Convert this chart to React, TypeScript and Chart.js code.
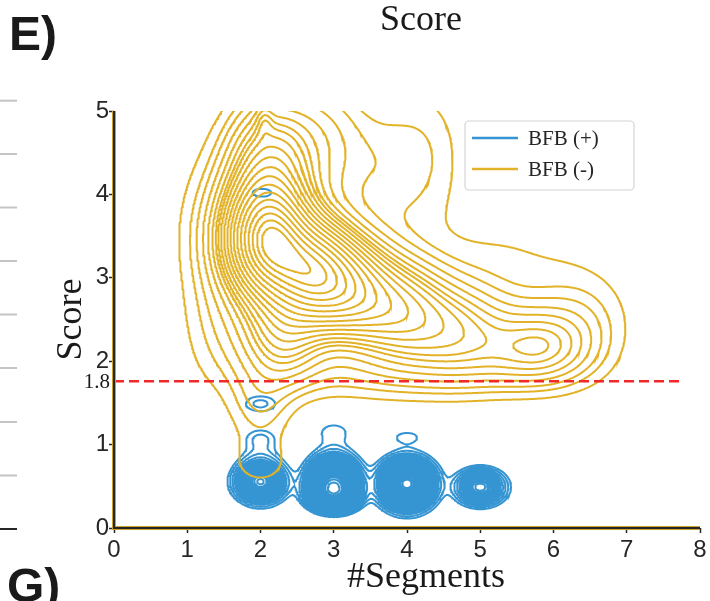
import React, { useEffect, useRef } from "react";
import { Chart, registerables } from "chart.js";

Chart.register(...registerables);

// ---------------- data ----------------
const xTicks = [0, 1, 2, 3, 4, 5, 6, 7, 8];
const yTicks = [0, 1, 2, 3, 4, 5];
const seriesLabels = ["BFB (+)", "BFB (-)"];
const seriesColors = ["#3594d2", "#e2b329"];

// BFB (+) kernel-density components: centre, spread, weight
const plusCx = [2.0, 2.0, 2.0, 2.0, 2.02, 3.0, 3.0, 3.0, 3.0, 4.0, 4.0, 5.0];
const plusCy = [0.55, 0.68, 1.08, 1.49, 4.02, 0.58, 0.42, 1.16, 0.85, 0.53, 1.09, 0.49];
const plusSx = [0.19, 0.19, 0.17, 0.19, 0.19, 0.19, 0.19, 0.2, 0.19, 0.2, 0.19, 0.19];
const plusSy = [0.13, 0.22, 0.09, 0.085, 0.07, 0.15, 0.11, 0.1, 0.2, 0.16, 0.075, 0.12];
const plusW = [0.45, 0.13, 0.025, 0.035, 0.021, 0.9, 0.6, 0.027, 0.045, 1.2, 0.022, 0.33];

// BFB (-) kernel-density components: centre, spread, weight
const minusCx = [2.1, 2.7, 3.2, 3.9, 4.7, 5.8, 2.1, 2.8, 3.8, 2.3, 2.0, 2.0, 2.05, 6.4, 1.45, 1.5, 3.5, 5.5, 5.3, 4.3];
const minusCy = [3.45, 3.1, 2.85, 2.6, 2.35, 2.2, 4.4, 4.6, 4.3, 2.3, 0.78, 1.45, 4.9, 2.5, 3.5, 2.3, 1.85, 1.9, 3.2, 4.6];
const minusSx = [0.36, 0.38, 0.42, 0.45, 0.5, 0.48, 0.38, 0.45, 0.5, 0.38, 0.34, 0.3, 0.08, 0.5, 0.42, 0.4, 1.0, 0.7, 0.8, 0.4];
const minusSy = [0.45, 0.4, 0.4, 0.4, 0.38, 0.3, 0.5, 0.6, 0.6, 0.38, 0.24, 0.3, 0.15, 0.45, 0.7, 0.5, 0.25, 0.25, 0.5, 0.6];
const minusW = [1.0, 0.7, 0.55, 0.4, 0.3, 0.2, 0.35, 0.25, 0.15, 0.25, 0.032, 0.049, 0.005, 0.11, 0.2, 0.08, 0.12, 0.06, 0.12, 0.06];

const plusLevelCount = 30;
const minusLevelCount = 21;
const levelThresh = 0.05;

const thresholdScore = 1.76;
const thresholdLabel = "1.8";
const thresholdEndX = 7.77;

// ---------------- density + contour helpers ----------------
const GX0 = -0.5;
const GX1 = 8.5;
const GY0 = -1;
const GY1 = 7.5;
const NX = 451;
const NY = 571;

function densityGrid(cx: number[], cy: number[], sx: number[], sy: number[], w: number[]) {
  const f = new Float64Array(NX * NY);
  const xs = new Float64Array(NX);
  const ys = new Float64Array(NY);
  for (let i = 0; i < NX; i++) xs[i] = GX0 + ((GX1 - GX0) * i) / (NX - 1);
  for (let j = 0; j < NY; j++) ys[j] = GY0 + ((GY1 - GY0) * j) / (NY - 1);
  const ex = new Float64Array(NX);
  const ey = new Float64Array(NY);
  for (let k = 0; k < cx.length; k++) {
    for (let i = 0; i < NX; i++) {
      const d = (xs[i] - cx[k]) / sx[k];
      ex[i] = Math.exp(-0.5 * d * d);
    }
    for (let j = 0; j < NY; j++) {
      const d = (ys[j] - cy[k]) / sy[k];
      ey[j] = Math.exp(-0.5 * d * d);
    }
    const amp = w[k] / (2 * Math.PI * sx[k] * sy[k]);
    for (let j = 0; j < NY; j++) {
      const a = amp * ey[j];
      if (a < 1e-12) continue;
      const row = j * NX;
      for (let i = 0; i < NX; i++) f[row + i] += a * ex[i];
    }
  }
  return { f, xs, ys };
}

// iso-proportion levels (share of the density mass outside each line)
function isoLevels(f: Float64Array, n: number, thresh: number) {
  const sorted = Float64Array.from(f).sort().reverse();
  let total = 0;
  for (let i = 0; i < sorted.length; i++) total += sorted[i];
  const cum = new Float64Array(sorted.length);
  let acc = 0;
  for (let i = 0; i < sorted.length; i++) {
    acc += sorted[i];
    cum[i] = acc / total;
  }
  const levels: number[] = [];
  for (let k = 0; k < n; k++) {
    const q = thresh + ((1 - thresh) * k) / (n - 1);
    const target = 1 - q;
    let lo = 0;
    let hi = cum.length;
    while (lo < hi) {
      const mid = (lo + hi) >> 1;
      if (cum[mid] < target) lo = mid + 1;
      else hi = mid;
    }
    levels.push(sorted[Math.min(lo, sorted.length - 1)]);
  }
  return levels;
}

type P = { x: number | null; y: number | null };

function contourAt(f: Float64Array, xs: Float64Array, ys: Float64Array, L: number): P[][] {
  const segA: number[] = [];
  const segB: number[] = [];
  const H = (i: number, j: number) => (j * NX + i) * 2;
  const V = (i: number, j: number) => (j * NX + i) * 2 + 1;
  for (let j = 0; j < NY - 1; j++) {
    for (let i = 0; i < NX - 1; i++) {
      const v0 = f[j * NX + i];
      const v1 = f[j * NX + i + 1];
      const v2 = f[(j + 1) * NX + i + 1];
      const v3 = f[(j + 1) * NX + i];
      const c = (v0 >= L ? 1 : 0) | (v1 >= L ? 2 : 0) | (v2 >= L ? 4 : 0) | (v3 >= L ? 8 : 0);
      if (c === 0 || c === 15) continue;
      const b = H(i, j);
      const r = V(i + 1, j);
      const t = H(i, j + 1);
      const l = V(i, j);
      const add = (p: number, q: number) => {
        segA.push(p);
        segB.push(q);
      };
      switch (c) {
        case 1: case 14: add(l, b); break;
        case 2: case 13: add(b, r); break;
        case 3: case 12: add(l, r); break;
        case 4: case 11: add(r, t); break;
        case 6: case 9: add(b, t); break;
        case 7: case 8: add(l, t); break;
        case 5: {
          const m = (v0 + v1 + v2 + v3) / 4;
          if (m >= L) { add(b, r); add(l, t); } else { add(l, b); add(r, t); }
          break;
        }
        case 10: {
          const m = (v0 + v1 + v2 + v3) / 4;
          if (m >= L) { add(l, b); add(r, t); } else { add(b, r); add(l, t); }
          break;
        }
      }
    }
  }
  const pointOf = (id: number): P => {
    const cell = id >> 1;
    const i = cell % NX;
    const j = (cell - i) / NX;
    if ((id & 1) === 0) {
      const a = f[j * NX + i];
      const c = f[j * NX + i + 1];
      const t = (L - a) / (c - a);
      return { x: xs[i] + t * (xs[i + 1] - xs[i]), y: ys[j] };
    }
    const a = f[j * NX + i];
    const c = f[(j + 1) * NX + i];
    const t = (L - a) / (c - a);
    return { x: xs[i], y: ys[j] + t * (ys[j + 1] - ys[j]) };
  };
  const adj = new Map<number, number[]>();
  for (let s = 0; s < segA.length; s++) {
    for (const e of [segA[s], segB[s]]) {
      const list = adj.get(e);
      if (list) list.push(s);
      else adj.set(e, [s]);
    }
  }
  const used = new Uint8Array(segA.length);
  const walk = (start: number, from: number) => {
    const out: number[] = [];
    let cur = start;
    for (;;) {
      const list = adj.get(cur) || [];
      let next = -1;
      for (const s of list) if (!used[s]) { next = s; break; }
      if (next < 0) break;
      used[next] = 1;
      const other = segA[next] === cur ? segB[next] : segA[next];
      out.push(other);
      cur = other;
      if (cur === from) break;
    }
    return out;
  };
  const lines: P[][] = [];
  for (let s = 0; s < segA.length; s++) {
    if (used[s]) continue;
    used[s] = 1;
    const fwd = walk(segB[s], segA[s]);
    const closed = fwd.length > 0 && fwd[fwd.length - 1] === segA[s];
    const back = closed ? [] : walk(segA[s], -1);
    const ids = [...back.reverse(), segA[s], segB[s], ...fwd];
    lines.push(ids.map(pointOf));
  }
  return lines;
}

function contourData(cx: number[], cy: number[], sx: number[], sy: number[], w: number[], n: number): P[] {
  const g = densityGrid(cx, cy, sx, sy, w);
  const levels = isoLevels(g.f, n, levelThresh);
  let max = 0;
  for (let i = 0; i < g.f.length; i++) if (g.f[i] > max) max = g.f[i];
  const pts: P[] = [];
  for (const L of levels) {
    if (L >= max) continue;
    for (const line of contourAt(g.f, g.xs, g.ys, L)) {
      for (const p of line) pts.push(p);
      pts.push({ x: null, y: null });
    }
  }
  return pts;
}

// ---------------- decorations ----------------
const SERIF = "'Liberation Serif', 'Times New Roman', serif";
const SANS = "'Liberation Sans', Arial, sans-serif";

const decorPlugin = {
  id: "decor",
  afterDraw(chart: any) {
    const ctx: CanvasRenderingContext2D = chart.ctx;
    const area = chart.chartArea;
    const yScale = chart.scales.y;
    ctx.save();

    // spines
    ctx.lineCap = "butt";
    ctx.strokeStyle = "#c9a22a";
    ctx.lineWidth = 4;
    ctx.beginPath();
    ctx.moveTo(area.left, area.top);
    ctx.lineTo(area.left, area.bottom);
    ctx.lineTo(area.right, area.bottom);
    ctx.stroke();
    ctx.strokeStyle = "#262626";
    ctx.lineWidth = 2;
    ctx.beginPath();
    ctx.moveTo(area.left, area.top);
    ctx.lineTo(area.left, area.bottom);
    ctx.lineTo(area.right, area.bottom);
    ctx.stroke();

    // neighbouring panel tick stubs at the left edge
    const stubs = [100.7, 154, 207.5, 261, 314.5, 368, 422, 475.5];
    ctx.strokeStyle = "#c4c4c4";
    ctx.lineWidth = 2;
    for (const y of stubs) {
      ctx.beginPath();
      ctx.moveTo(0, y);
      ctx.lineTo(17, y);
      ctx.stroke();
    }
    ctx.strokeStyle = "#262626";
    ctx.beginPath();
    ctx.moveTo(0, 529);
    ctx.lineTo(17, 529);
    ctx.stroke();

    ctx.fillStyle = "#1a1a1a";
    // panel letters
    ctx.font = `bold 48px ${SANS}`;
    ctx.textAlign = "left";
    ctx.textBaseline = "alphabetic";
    ctx.fillText("E)", 9, 50);
    ctx.fillText("G)", 7, 602);

    // title
    ctx.font = `36px ${SERIF}`;
    ctx.textAlign = "center";
    ctx.fillText("Score", 421, 30);

    // x axis title
    ctx.fillText("#Segments", 426, 587);

    // y axis title
    ctx.save();
    ctx.translate(81, (area.top + area.bottom) / 2);
    ctx.rotate(-Math.PI / 2);
    ctx.fillText("Score", 0, 0);
    ctx.restore();

    // threshold label
    ctx.font = `21px ${SERIF}`;
    ctx.textAlign = "right";
    ctx.textBaseline = "middle";
    ctx.fillText(thresholdLabel, 110, yScale.getPixelForValue(thresholdScore) + 1);

    // legend
    const lx = 465, ly = 121, lw = 169, lh = 69;
    ctx.fillStyle = "rgba(255,255,255,0.85)";
    ctx.strokeStyle = "#d4d4d4";
    ctx.lineWidth = 1.2;
    ctx.beginPath();
    (ctx as any).roundRect(lx, ly, lw, lh, 4);
    ctx.fill();
    ctx.stroke();
    const rows = [138, 169];
    ctx.lineWidth = 2.5;
    ctx.font = `21px ${SERIF}`;
    ctx.textAlign = "left";
    ctx.textBaseline = "middle";
    for (let k = 0; k < seriesLabels.length; k++) {
      ctx.strokeStyle = seriesColors[k];
      ctx.beginPath();
      ctx.moveTo(472, rows[k]);
      ctx.lineTo(518, rows[k]);
      ctx.stroke();
      ctx.fillStyle = "#262626";
      ctx.fillText(seriesLabels[k], 528, rows[k] + 1);
    }
    ctx.restore();
  },
};

export default function App() {
  const ref = useRef<HTMLCanvasElement | null>(null);
  useEffect(() => {
    if (!ref.current) return;
    const plusPts = contourData(plusCx, plusCy, plusSx, plusSy, plusW, plusLevelCount);
    const minusPts = contourData(minusCx, minusCy, minusSx, minusSy, minusW, minusLevelCount);
    const tickFont = { family: SANS, size: 24 };
    const chart = new Chart(ref.current, {
      type: "scatter",
      data: {
        datasets: [
          {
            label: "threshold",
            data: [
              { x: 0, y: thresholdScore },
              { x: thresholdEndX, y: thresholdScore },
            ],
            showLine: true,
            borderColor: "#f02828",
            borderWidth: 2.5,
            borderDash: [10, 5],
            pointRadius: 0,
          },
          {
            label: seriesLabels[1],
            data: minusPts as any,
            showLine: true,
            spanGaps: false,
            borderColor: seriesColors[1],
            borderWidth: 2,
            pointRadius: 0,
          },
          {
            label: seriesLabels[0],
            data: plusPts as any,
            showLine: true,
            spanGaps: false,
            borderColor: seriesColors[0],
            borderWidth: 2,
            pointRadius: 0,
          },
        ],
      },
      options: {
        animation: false,
        responsive: false,
        events: [],
        layout: { padding: { left: 0, top: 111, right: 10, bottom: 0 } },
        plugins: { legend: { display: false }, tooltip: { enabled: false } },
        scales: {
          x: {
            type: "linear",
            min: 0,
            max: 8,
            afterBuildTicks: (s: any) => {
              s.ticks = xTicks.map((v) => ({ value: v }));
            },
            afterFit: (s: any) => {
              s.height = 73;
              s.paddingLeft = 0;
              s.paddingRight = 0;
            },
            ticks: { font: tickFont, color: "#262626", padding: 3, maxRotation: 0, autoSkip: false },
            grid: { drawOnChartArea: false, drawTicks: true, tickLength: 5, tickColor: "#262626", tickWidth: 1.5 },
            border: { display: false },
          },
          y: {
            type: "linear",
            min: 0,
            max: 5,
            afterBuildTicks: (s: any) => {
              s.ticks = yTicks.map((v) => ({ value: v }));
            },
            afterFit: (s: any) => {
              s.width = 114;
              s.paddingTop = 0;
              s.paddingBottom = 0;
            },
            ticks: { font: tickFont, color: "#262626", padding: 0, autoSkip: false },
            grid: { drawOnChartArea: false, drawTicks: true, tickLength: 5, tickColor: "#262626", tickWidth: 1.5 },
            border: { display: false },
          },
        },
      },
      plugins: [decorPlugin],
    } as any);
    return () => chart.destroy();
  }, []);
  return (
    <div style={{ position: "absolute", left: 0, top: 0, width: 710, height: 601, overflow: "hidden", background: "#fff" }}>
      <canvas ref={ref} width={710} height={601} style={{ display: "block" }} />
    </div>
  );
}
